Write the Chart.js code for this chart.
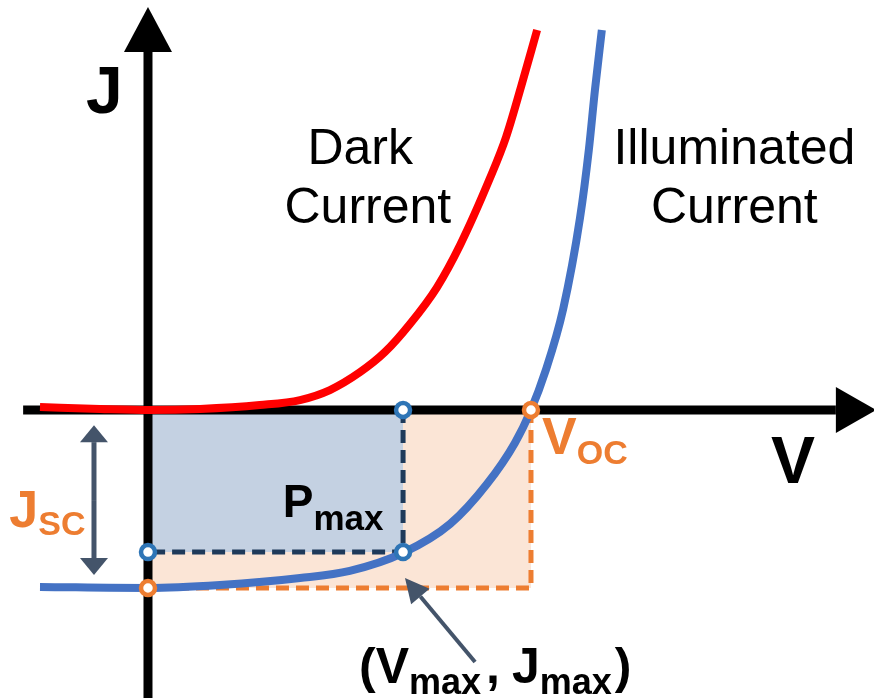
<!DOCTYPE html>
<html lang="en">
<head>
    <meta charset="UTF-8">
    <title>J-V curve</title>
    <script src="https://cdn.jsdelivr.net/npm/chart.js@4.4.0/dist/chart.umd.min.js"></script>
    <style>
        body {margin: 0; background: #fff}
        #wrap {width: 874px; height: 698px; position: relative}
    </style>
</head>
<body>
    <div id="wrap">
        <canvas id="chart"></canvas>
    </div>
    <script>
        // dark current curve (V, J)
        const darkV = [-0.282, -0.125, 0.005, 0.136, 0.292, 0.397, 0.475, 0.554, 0.619, 0.684, 0.755, 0.815, 0.893, 0.935, 0.974, 1.016];
        const darkJ = [0.017, 0.006, 0.000, 0.006, 0.028, 0.056, 0.112, 0.213, 0.326, 0.483, 0.691, 0.927, 1.303, 1.534, 1.815, 2.135];
        // illuminated current curve
        const illumV = [-0.282, 0.000, 0.188, 0.397, 0.527, 0.666, 0.789, 0.885, 0.958, 1.000, 1.037, 1.084, 1.128, 1.151, 1.167, 1.185];
        const illumJ = [-0.994, -1.000, -0.983, -0.944, -0.904, -0.803, -0.640, -0.416, -0.185, 0.000, 0.213, 0.567, 1.079, 1.461, 1.798, 2.135];
        // key points
        const vOC = 1.0;
        const jSC = -1.0;
        const vMax = 0.666;
        const jMax = -0.798;
        // axis extents
        const axisV = [-0.326, 1.796];
        const axisJ = [-1.62, 2.011];

        const FONT = '"Liberation Sans", Arial, sans-serif';
        const toPts = (xs, ys) => xs.map((x, i) => ({x: x, y: ys[i]}));

        function subText(ctx, x, y, main, sub, size, subSize, drop) {
            ctx.font = 'bold ' + size + 'px ' + FONT;
            ctx.fillText(main, x, y);
            let w = ctx.measureText(main).width;
            ctx.font = 'bold ' + subSize + 'px ' + FONT;
            ctx.fillText(sub, x + w, y + drop);
            return x + w + ctx.measureText(sub).width;
        }

        function arrow(ctx, x1, y1, x2, y2, headLen, headHalf, width, color) {
            const ang = Math.atan2(y2 - y1, x2 - x1);
            const bx = x2 - headLen * Math.cos(ang);
            const by = y2 - headLen * Math.sin(ang);
            ctx.strokeStyle = color;
            ctx.fillStyle = color;
            ctx.lineWidth = width;
            ctx.beginPath();
            ctx.moveTo(x1, y1);
            ctx.lineTo(bx, by);
            ctx.stroke();
            ctx.beginPath();
            ctx.moveTo(x2, y2);
            ctx.lineTo(bx + headHalf * Math.sin(ang), by - headHalf * Math.cos(ang));
            ctx.lineTo(bx - headHalf * Math.sin(ang), by + headHalf * Math.cos(ang));
            ctx.closePath();
            ctx.fill();
        }

        // arrowheads, arrows and labels
        const decor = {
            id: 'decor',
            afterDatasetsDraw(chart) {
                const ctx = chart.ctx;
                const px = v => chart.scales.x.getPixelForValue(v);
                const py = j => chart.scales.y.getPixelForValue(j);
                ctx.save();

                // axis arrowheads
                ctx.fillStyle = '#000';
                ctx.beginPath();
                ctx.moveTo(px(0), py(2.264));
                ctx.lineTo(px(0) - 24, py(axisJ[1]));
                ctx.lineTo(px(0) + 24, py(axisJ[1]));
                ctx.closePath();
                ctx.fill();
                ctx.beginPath();
                ctx.moveTo(px(1.901), py(0));
                ctx.lineTo(px(axisV[1]), py(0) - 23);
                ctx.lineTo(px(axisV[1]), py(0) + 23);
                ctx.closePath();
                ctx.fill();

                // Jsc double arrow
                const ax = px(-0.141);
                const mid = (py(-0.085) + py(-0.927)) / 2;
                arrow(ctx, ax, mid, ax, py(-0.085), 17, 14, 5, '#44546a');
                arrow(ctx, ax, mid, ax, py(-0.927), 17, 14, 5, '#44546a');

                // pointer to (Vmax, Jmax)
                arrow(ctx, px(0.854), py(-1.416), px(0.671), py(-0.944), 24, 12, 4, '#44546a');

                // axis letters
                ctx.fillStyle = '#000';
                ctx.textAlign = 'left';
                ctx.font = 'bold 66px ' + FONT;
                ctx.fillText('J', px(-0.162), py(1.669));
                ctx.textAlign = 'center';
                ctx.fillText('V', px(1.684), py(-0.410));

                // curve names
                ctx.font = '50px ' + FONT;
                ctx.fillText('Dark', px(0.554), py(1.382));
                ctx.fillText('Current', px(0.574), py(1.051));
                ctx.fillText('Illuminated', px(1.531), py(1.382));
                ctx.fillText('Current', px(1.531), py(1.051));

                ctx.textAlign = 'left';
                // Pmax
                subText(ctx, px(0.352), py(-0.601), 'P', 'max', 46, 35, 13);
                // (Vmax , Jmax)
                let x = px(0.551);
                const y = py(-1.534);
                ctx.font = 'bold 50px ' + FONT;
                ctx.fillText('(', x, y);
                x += ctx.measureText('(').width;
                x = subText(ctx, x, y, 'V', 'max', 50, 36, 11);
                ctx.font = 'bold 50px ' + FONT;
                ctx.fillText(',', x + 5, y);
                x += 5 + ctx.measureText(',').width + 12;
                x = subText(ctx, x, y, 'J', 'max', 50, 36, 11);
                ctx.font = 'bold 50px ' + FONT;
                ctx.fillText(')', x + 3, y);

                // Voc and Jsc
                ctx.fillStyle = '#ed7d31';
                subText(ctx, px(1.029), py(-0.25), 'V', 'OC', 52, 34, 10);
                subText(ctx, px(-0.362), py(-0.66), 'J', 'SC', 52, 34, 8);

                ctx.restore();
            }
        };

        const ctx = document.getElementById('chart');
        new Chart(ctx, {
            type: 'scatter',
            data: {
                datasets: [
                    {   // Voc x Jsc box
                        data: [{x: 0, y: jSC}, {x: vOC, y: jSC}],
                        showLine: true, borderWidth: 0, pointRadius: 0,
                        backgroundColor: '#fbe5d6', fill: {value: 0}, order: 12
                    },
                    {   // Pmax box
                        data: [{x: 0, y: jMax}, {x: vMax, y: jMax}],
                        showLine: true, borderWidth: 0, pointRadius: 0,
                        backgroundColor: '#c4d1e2', fill: {value: 0}, order: 11
                    },
                    {
                        data: [{x: vOC, y: 0}, {x: vOC, y: jSC}, {x: 0, y: jSC}],
                        showLine: true, borderColor: '#ed7d31', borderWidth: 5,
                        borderDash: [13, 7], pointRadius: 0, fill: false, order: 10
                    },
                    {
                        data: [{x: vMax, y: 0}, {x: vMax, y: jMax}, {x: 0, y: jMax}],
                        showLine: true, borderColor: '#1f3a5a', borderWidth: 5,
                        borderDash: [13, 7], pointRadius: 0, fill: false, order: 9
                    },
                    {   // V axis
                        data: [{x: axisV[0], y: 0}, {x: axisV[1], y: 0}],
                        showLine: true, borderColor: '#000', borderWidth: 9, pointRadius: 0, order: 8
                    },
                    {   // J axis
                        data: [{x: 0, y: axisJ[0]}, {x: 0, y: axisJ[1]}],
                        showLine: true, borderColor: '#000', borderWidth: 9, pointRadius: 0, order: 7
                    },
                    {
                        label: 'Dark Current',
                        data: toPts(darkV, darkJ),
                        showLine: true, borderColor: '#ff0000', borderWidth: 8,
                        cubicInterpolationMode: 'monotone', pointRadius: 0, order: 5
                    },
                    {
                        label: 'Illuminated Current',
                        data: toPts(illumV, illumJ),
                        showLine: true, borderColor: '#4472c4', borderWidth: 8,
                        cubicInterpolationMode: 'monotone', pointRadius: 0, order: 4
                    },
                    {   // marked points
                        data: [{x: vMax, y: 0}, {x: vMax, y: jMax}, {x: 0, y: jMax}, {x: vOC, y: 0}, {x: 0, y: jSC}],
                        showLine: false, pointRadius: 7, pointBorderWidth: 4.5,
                        pointBackgroundColor: '#fff',
                        pointBorderColor: ['#2e75b6', '#2e75b6', '#2e75b6', '#ed7d31', '#ed7d31'],
                        order: 1
                    }
                ]
            },
            options: {
                responsive: true,
                maintainAspectRatio: false,
                devicePixelRatio: 1,
                animation: false,
                layout: {padding: 0, autoPadding: false},
                scales: {
                    x: {type: 'linear', display: false, min: -0.3864, max: 1.8956},
                    y: {type: 'linear', display: false, min: -1.618, max: 2.3034}
                },
                plugins: {
                    legend: {display: false},
                    tooltip: {enabled: false}
                }
            },
            plugins: [decor]
        });
    </script>
</body>
</html>
